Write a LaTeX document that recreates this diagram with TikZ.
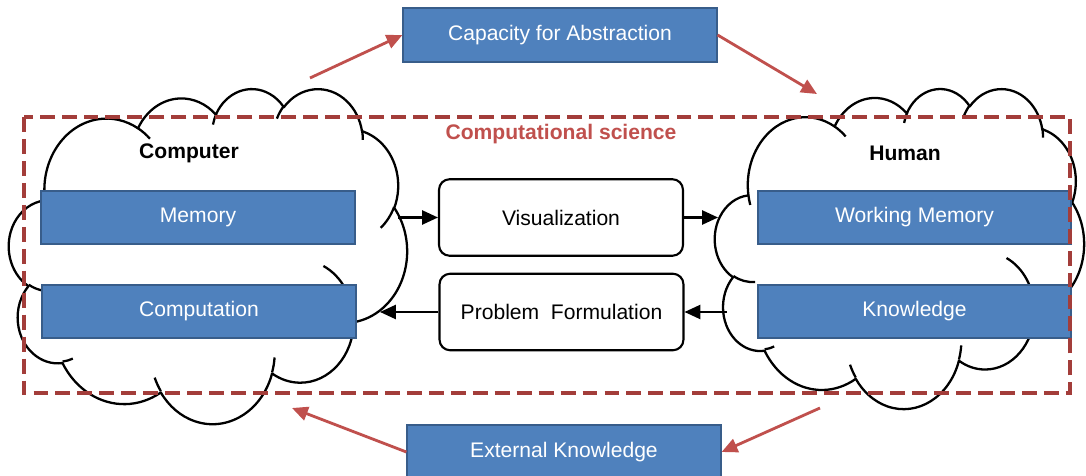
\documentclass[tikz,border=0pt]{standalone}
\usepackage{fontspec}
\setmainfont{Liberation Sans}
\usetikzlibrary{arrows.meta, positioning}
\definecolor{boxblue}{HTML}{4F81BD}
\definecolor{boxedge}{HTML}{385D8A}
\definecolor{accred}{HTML}{C0504D}
\definecolor{dashred}{HTML}{A33D3A}

% one bump of the cloud: x radius, y radius, start angle, sweep (visual angles)
\tikzset{
  puff/.style n args={4}{x radius=#1, y radius=#2,
    start angle={atan2(#1*sin(#3),#2*cos(#3))},
    delta angle={mod(atan2(#1*sin(#3+#4),#2*cos(#3+#4))-atan2(#1*sin(#3),#2*cos(#3))+720,360)}},
  cloudline/.style={line width=1.3pt, line join=round},
}

% cloud with top left corner (#1,#2) and size #3 x #4
\newcommand{\pptcloud}[4]{%
  \begin{scope}[shift={(#1,#2)}, xscale=#3/432, yscale=#4/432]
    \draw[cloudline, fill=white] (39.00,143.70)
      arc[puff={67.53}{91.90}{-190.4875}{123.7805}]
      arc[puff={53.33}{72.67}{-144.1024}{89.9452}]
      arc[puff={43.65}{59.45}{-145.8079}{99.7230}]
      arc[puff={48.57}{65.95}{-130.9861}{117.2417}]
      arc[puff={53.33}{72.73}{-78.7089}{109.0269}]
      arc[puff={67.75}{92.20}{-46.2673}{130.2690}]
      arc[puff={57.85}{78.67}{0.6250}{114.0333}]
      arc[puff={67.52}{92.15}{22.4516}{115.1726}]
      arc[puff={77.20}{105.43}{66.2426}{75.7110}]
      arc[puff={43.60}{59.18}{-274.9421}{146.7356}]
      arc[puff={43.45}{59.45}{-246.8285}{152.5189}]
      -- cycle;
    \draw[cloudline]
      (46.93,261.77) arc[puff={43.45}{59.45}{86.7420}{26.4295}]
      (69.28,348.99) arc[puff={43.60}{59.18}{73.6105}{11.4475}]
      (164.78,390.90) arc[puff={67.52}{92.15}{137.6242}{14.0811}]
      (288.27,347.51) arc[puff={67.52}{92.15}{6.4533}{15.9984}]
      (341.29,229.54) arc[puff={57.85}{78.67}{-70.2924}{70.9174}]
      (417.98,153.54) arc[puff={53.33}{72.73}{30.3180}{27.7515}]
      (383.24,54.26) arc[puff={48.57}{65.95}{-13.7443}{14.8589}]
      (290.78,39.52) arc[puff={48.57}{65.95}{-149.1815}{18.1954}]
      (221.41,47.20) arc[puff={43.65}{59.45}{-163.4943}{17.6864}]
      (140.00,51.92) arc[puff={67.53}{91.90}{-66.7070}{12.3194}]
      (41.27,157.89) arc[puff={67.53}{91.90}{157.6544}{11.8582}];
  \end{scope}}

\begin{document}
\begin{tikzpicture}[x=0.02cm, y=-0.02cm,
        bluebox/.style={rectangle, draw=boxedge, fill=boxblue, line width=1pt, minimum width=6.27cm, minimum height=1.07cm, inner sep=0pt, text=white, font=\fontsize{12}{14}\selectfont},
        procbox/.style={rectangle, draw, fill=white, rounded corners=6pt, line width=1.2pt, minimum width=4.88cm, minimum height=1.53cm, inner sep=0pt, font=\fontsize{12}{14}\selectfont},
        cloudtitle/.style={font=\fontsize{12}{14}\selectfont\bfseries},
        flow/.style={-{Triangle[length=9pt, width=8pt]}, line width=1.2pt},
        absarr/.style={-{Triangle[length=9pt, width=8pt]}, line width=1.6pt, draw=accred},
    ]
        \useasboundingbox (0,0) rectangle (1086,476);

        % Clouds
        \pptcloud{9}{88}{398}{335}
        \pptcloud{715}{88}{369}{320}

        % Computer side
        \node[bluebox] (mem) at (198,217.5) {Memory};
        \node[bluebox] (comp) at (199,311.5) {Computation};

        % Human side
        \node[bluebox] (wmem) at (914.5,217.5) {Working Memory};
        \node[bluebox] (know) at (914.5,311.5) {Knowledge};

        % Computational science frame
        \draw[dashred, line width=1.8pt, dash pattern=on 8.5pt off 4pt] (24,117) rectangle (1070,393);
        \node[cloudtitle, text=accred] (sci) at (561,134) {Computational science};
        \node[cloudtitle] (comptitle) at (189,153) {Computer};
        \node[cloudtitle] (humtitle) at (905,153) {Human};

        % Middle
        \node[procbox] (vis) at (561,217.5) {Visualization};
        \node[procbox] (prob) at (561.5,312) {Problem~ Formulation};

        % Outside
        \node[bluebox] (cap) at (560,35) {Capacity for Abstraction};
        \node[bluebox] (ext) at (564,452) {External Knowledge};

        % Arrow ends on the clouds
        \coordinate (compV) at (398,217.5);
        \coordinate (humV) at (718,217.5);
        \coordinate (humP) at (727,312);
        \coordinate (compP) at (380,312);
        \coordinate (compTop) at (310,78);
        \coordinate (humTop) at (817,94);
        \coordinate (compBot) at (292,408);
        \coordinate (humBot) at (820,408);

        % Arrows
        \draw[flow] (compV) -- (vis);
        \draw[flow] (vis) -- (humV);
        \draw[flow] (humP) -- (prob);
        \draw[flow] (prob) -- (compP);
        \draw[absarr] (compTop) -- (cap.west);
        \draw[absarr] (cap.east) -- (humTop);
        \draw[absarr] (ext.west) -- (compBot);
        \draw[absarr] (humBot) -- (ext.east);
    \end{tikzpicture}
\end{document}
